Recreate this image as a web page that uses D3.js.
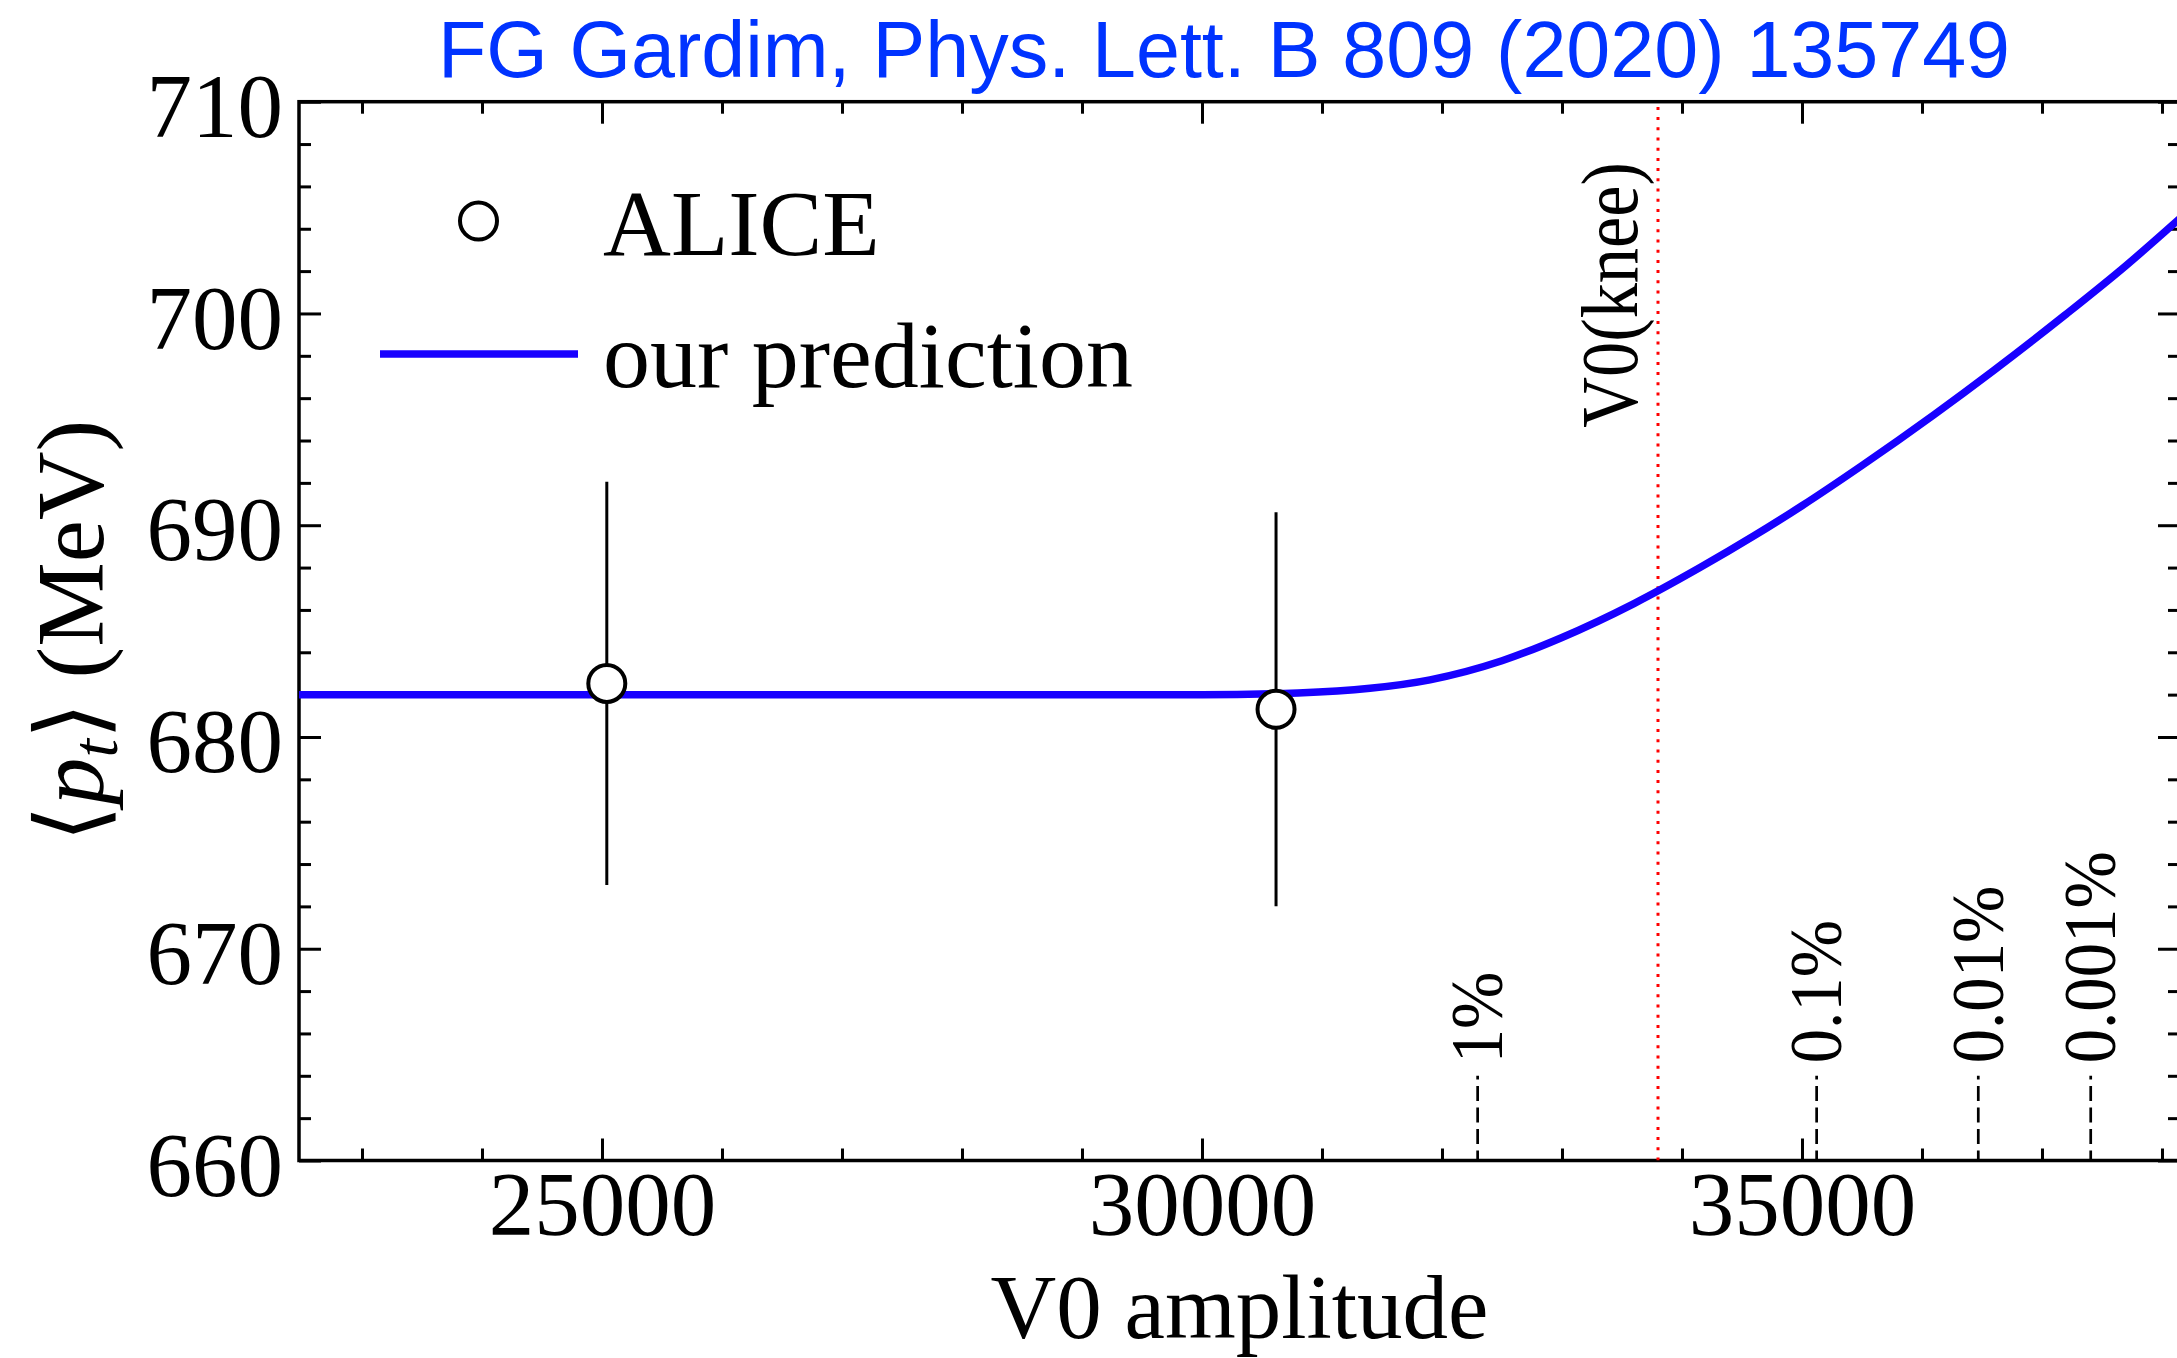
<!DOCTYPE html>
<html><head><meta charset="utf-8">
<script src="https://cdn.jsdelivr.net/npm/d3@7"></script>
<style>body{margin:0;background:#fff}</style>
</head><body><svg id="chart" width="2177" height="1358"></svg>
<script>
// ---- data ----
const xDomain = [22475, 38150];
const yDomain = [660, 710];
const xMajorTicks = [25000, 30000, 35000];
const yMajorTicks = [660, 670, 680, 690, 700, 710];
const curveV0 = [22475, 25000, 28000, 30000, 30800, 31400, 31900, 32500, 33000, 33600, 34150, 34600, 35000, 35500, 36100, 36600, 37200, 37700, 38150];
const curvePt = [682.0, 682.0, 682.0, 682.0, 682.08, 682.3, 682.7, 683.6, 684.7, 686.3, 688.0, 689.5, 690.92, 692.82, 695.22, 697.32, 699.96, 702.26, 704.49];
const aliceV0 = [25040, 30617];
const alicePt = [682.53, 681.31];
const aliceErr = [9.52, 9.30];
const kneeV0 = 33800;
const kneeLabel = "V0(knee)";
const centralityLabels = ["1%", "0.1%", "0.01%", "0.001%"];
const centralityV0 = [32297, 35122, 36469, 37406];
const centralityMarkTop = 664;
const titleText = "FG Gardim, Phys. Lett. B 809 (2020) 135749";
const legendLabels = ["ALICE", "our prediction"];

// ---- layout ----
const L = 299, R = 2180, T = 101.7, B = 1160.5;
const serif = "'Liberation Serif', 'DejaVu Serif', 'DejaVu Sans', serif";
const lineBlue = "#1800ff";

const svg = d3.select("#chart");
svg.append("rect").attr("width", 2177).attr("height", 1358).attr("fill", "#fff");

const x = d3.scaleLinear().domain(xDomain).range([L, R]);
const y = d3.scaleLinear().domain(yDomain).range([B, T]);

svg.append("defs").append("clipPath").attr("id", "clip")
  .append("rect").attr("x", L).attr("y", T).attr("width", R - L).attr("height", B - T);

const xMinor = d3.range(23000, 38151, 1000).filter(v => !xMajorTicks.includes(v));
const yMinor = d3.range(662, 710, 2).filter(v => v % 10 !== 0);

function styleAxis(g) {
  g.select(".domain").remove();
  g.selectAll(".tick line").attr("stroke", "#000").attr("stroke-width", 3);
  g.selectAll("text").attr("font-family", serif).attr("font-size", 91).attr("fill", "#000");
}

// bottom
svg.append("g").attr("transform", `translate(0,${B})`)
  .call(d3.axisBottom(x).tickValues(xMajorTicks).tickSize(-22).tickPadding(10).tickFormat(d3.format("d")))
  .call(styleAxis);
svg.append("g").attr("transform", `translate(0,${B})`)
  .call(d3.axisBottom(x).tickValues(xMinor).tickSize(-12).tickFormat(""))
  .call(styleAxis);
// top
svg.append("g").attr("transform", `translate(0,${T})`)
  .call(d3.axisTop(x).tickValues(xMajorTicks).tickSize(-22).tickFormat(""))
  .call(styleAxis);
svg.append("g").attr("transform", `translate(0,${T})`)
  .call(d3.axisTop(x).tickValues(xMinor).tickSize(-12).tickFormat(""))
  .call(styleAxis);
// left
const yl = svg.append("g").attr("transform", `translate(${L},0)`)
  .call(d3.axisLeft(y).tickValues(yMajorTicks).tickSize(-22).tickPadding(16).tickFormat(d3.format("d")))
  .call(styleAxis);
yl.selectAll("text").attr("dy", "0.38em");
svg.append("g").attr("transform", `translate(${L},0)`)
  .call(d3.axisLeft(y).tickValues(yMinor).tickSize(-12).tickFormat(""))
  .call(styleAxis);
// right
svg.append("g").attr("transform", `translate(${R},0)`)
  .call(d3.axisRight(y).tickValues(yMajorTicks).tickSize(-22).tickFormat(""))
  .call(styleAxis);
svg.append("g").attr("transform", `translate(${R},0)`)
  .call(d3.axisRight(y).tickValues(yMinor).tickSize(-12).tickFormat(""))
  .call(styleAxis);

// frame
svg.append("rect").attr("x", L).attr("y", T).attr("width", R - L).attr("height", B - T)
  .attr("fill", "none").attr("stroke", "#000").attr("stroke-width", 3.5);

const plot = svg.append("g").attr("clip-path", "url(#clip)");

// knee line
plot.append("line")
  .attr("x1", x(kneeV0)).attr("x2", x(kneeV0)).attr("y1", y(yDomain[0])).attr("y2", y(yDomain[1]))
  .attr("stroke", "#ff0000").attr("stroke-width", 3).attr("stroke-dasharray", "3 7.2");

// centrality markers
centralityV0.forEach((v, i) => {
  svg.append("line")
    .attr("x1", x(v)).attr("x2", x(v)).attr("y1", y(yDomain[0])).attr("y2", y(centralityMarkTop))
    .attr("stroke", "#000").attr("stroke-width", 2.7)
    .attr("stroke-dasharray", "15 6.5").attr("stroke-dashoffset", 5);
  svg.append("text")
    .attr("transform", `translate(${x(v)},${y(centralityMarkTop) - 12.5}) rotate(-90) scale(0.93,1)`)
    .attr("dy", "0.33em").attr("text-anchor", "start")
    .attr("font-family", serif).attr("font-size", 74).attr("fill", "#000")
    .text(centralityLabels[i]);
});

// knee label
svg.append("text")
  .attr("transform", `translate(${x(kneeV0) - 21},${y(694.6)}) rotate(-90) scale(0.88,1)`)
  .attr("text-anchor", "start")
  .attr("font-family", serif).attr("font-size", 80).attr("fill", "#000")
  .text(kneeLabel);

// prediction curve
const curveData = curveV0.map((v, i) => [v, curvePt[i]]);
plot.append("path").datum(curveData)
  .attr("d", d3.line().x(d => x(d[0])).y(d => y(d[1])).curve(d3.curveMonotoneX))
  .attr("fill", "none").attr("stroke", lineBlue).attr("stroke-width", 7.5);

// ALICE points
aliceV0.forEach((v, i) => {
  svg.append("line")
    .attr("x1", x(v)).attr("x2", x(v))
    .attr("y1", y(alicePt[i] - aliceErr[i])).attr("y2", y(alicePt[i] + aliceErr[i]))
    .attr("stroke", "#000").attr("stroke-width", 3);
  svg.append("circle").attr("cx", x(v)).attr("cy", y(alicePt[i])).attr("r", 18.5)
    .attr("fill", "#fff").attr("stroke", "#000").attr("stroke-width", 4);
});

// legend
svg.append("circle").attr("cx", 478.5).attr("cy", 221).attr("r", 18.5)
  .attr("fill", "#fff").attr("stroke", "#000").attr("stroke-width", 4);
svg.append("line").attr("x1", 380).attr("x2", 578).attr("y1", 354).attr("y2", 354)
  .attr("stroke", lineBlue).attr("stroke-width", 7.5);
svg.append("text").attr("x", 603).attr("y", 255)
  .attr("font-family", serif).attr("font-size", 94).attr("fill", "#000").text(legendLabels[0]);
svg.append("text").attr("x", 603).attr("y", 387)
  .attr("font-family", serif).attr("font-size", 94).attr("fill", "#000").text(legendLabels[1]);

// axis labels
svg.append("text").attr("x", (L + R) / 2).attr("y", 1338).attr("text-anchor", "middle")
  .attr("font-family", serif).attr("font-size", 91).attr("fill", "#000").text("V0 amplitude");

const ylab = svg.append("text")
  .attr("transform", `translate(103,631) rotate(-90)`)
  .attr("text-anchor", "middle")
  .attr("font-family", serif).attr("font-size", 95).attr("fill", "#000");
ylab.append("tspan").text("⟨");
ylab.append("tspan").attr("font-style", "italic").text("p");
ylab.append("tspan").attr("font-style", "italic").attr("font-size", 66).attr("baseline-shift", "-14").text("t");
ylab.append("tspan").text("⟩ (MeV)");

// title
svg.append("text").attr("x", 1224).attr("y", 77).attr("text-anchor", "middle")
  .attr("font-family", "'Liberation Sans', Arial, sans-serif").attr("font-size", 79)
  .attr("fill", "#0033ff").text(titleText);
</script>
</body></html>
